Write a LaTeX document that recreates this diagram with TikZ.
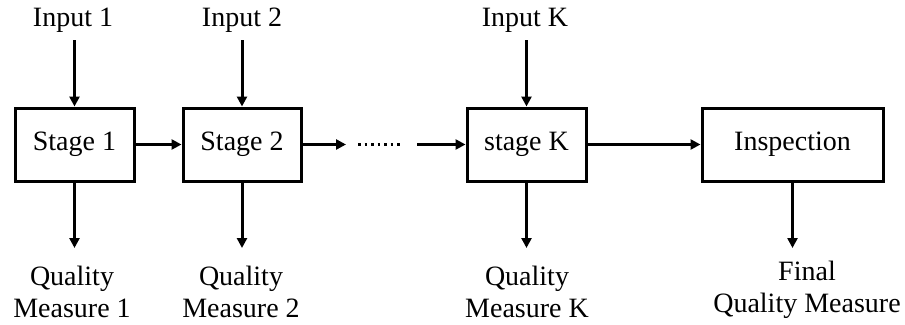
\documentclass[tikz,border=0pt]{standalone}
\usepackage{fontspec}
\setmainfont{Liberation Serif}
\usetikzlibrary{arrows.meta}
\begin{document}
\begin{tikzpicture}[x=1pt,y=-1pt,
  box/.style={draw,line width=3pt,inner sep=0pt,minimum height=73pt,font=\fontsize{28}{32}\selectfont},
  lbl/.style={inner sep=0pt,align=center,font=\fontsize{28}{32}\selectfont},
  arr/.style={line width=3pt,-{Triangle[length=10pt,width=10pt]}}]
\useasboundingbox (0,0) rectangle (905,324);
\node[box,minimum width=119pt] (s1) at (74.5,144.5) {Stage 1};
\node[box,minimum width=118pt] (s2) at (242,144.5) {Stage 2};
\node[box,minimum width=119pt] (sk) at (526.5,144.5) {stage K};
\node[box,minimum width=181pt] (ins) at (792.5,144.5) {Inspection};
\node[lbl] (i1) at (73,20) {Input 1};
\node[lbl] (i2) at (242,20) {Input 2};
\node[lbl] (ik) at (525,20) {Input K};
\node[lbl] (q1) at (72,292) {Quality\\Measure 1};
\node[lbl] (q2) at (241,292) {Quality\\Measure 2};
\node[lbl] (qk) at (527,292) {Quality\\Measure K};
\node[lbl] (fq) at (807,290) {Final\\Quality Measure};
\coordinate (g1) at (346,144.5);
\coordinate (d1) at (358,144.5);
\coordinate (d2) at (402,144.5);
\coordinate (g2) at (417,144.5);
\draw[arr] (s1.north |- 0,40) -- (s1.north);
\draw[arr] (s2.north |- 0,40) -- (s2.north);
\draw[arr] (sk.north |- 0,40) -- (sk.north);
\draw[arr] (s1.south) -- (s1.south |- 0,248);
\draw[arr] (s2.south) -- (s2.south |- 0,248);
\draw[arr] (sk.south) -- (sk.south |- 0,248);
\draw[arr] (ins.south) -- (ins.south |- 0,248);
\draw[arr] (s1.east) -- (s2.west);
\draw[arr] (s2.east) -- (g1);
\draw[line width=3pt,dash pattern=on 2.5pt off 4pt] (d1) -- (d2);
\draw[arr] (g2) -- (sk.west);
\draw[arr] (sk.east) -- (ins.west);
\end{tikzpicture}
\end{document}
